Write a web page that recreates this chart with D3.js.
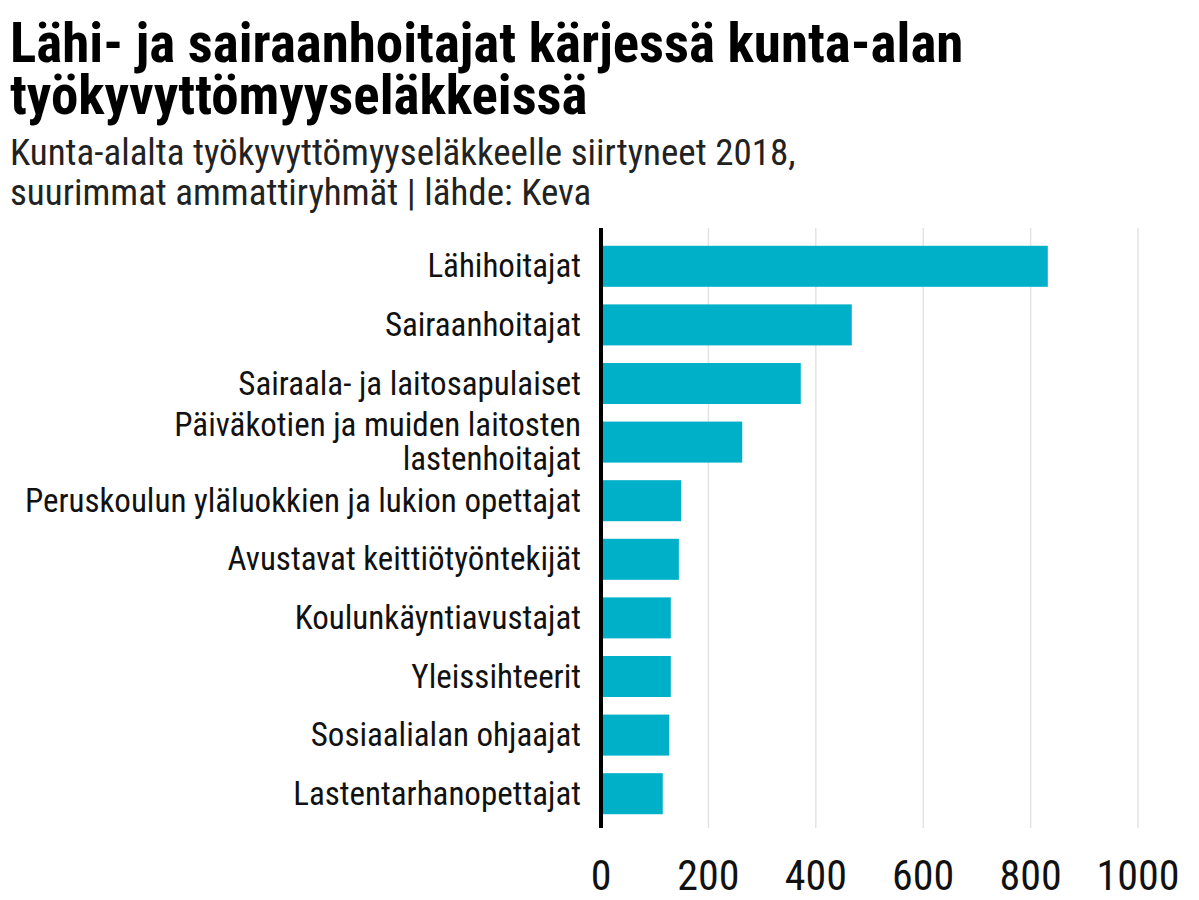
<!DOCTYPE html><html><head><meta charset="utf-8">
<script src="https://cdn.jsdelivr.net/npm/d3@7"></script>
<style>body{margin:0;background:#fff}text{font-family:"Roboto Condensed","Liberation Sans Narrow","DejaVu Sans Condensed",Roboto,sans-serif}</style></head><body>
<svg id="c" width="1199" height="900"></svg>
<script>
const categories=["Lähihoitajat","Sairaanhoitajat","Sairaala- ja laitosapulaiset","Päiväkotien ja muiden laitosten|lastenhoitajat","Peruskoulun yläluokkien ja lukion opettajat","Avustavat keittiötyöntekijät","Koulunkäyntiavustajat","Yleissihteerit","Sosiaalialan ohjaajat","Lastentarhanopettajat"];
const values=[832,467,372,263,149,145,130,130,127,115];
const ticks=[0,200,400,600,800,1000];
const svg=d3.select("#c");
const x=d3.scaleLinear().domain([0,1000]).range([601,1138]);
const y=d3.scaleBand().domain(categories).range([237,823]).paddingInner(0.3).paddingOuter(0.15);
const t=svg.append("text").attr("font-size",55).attr("font-weight",700).attr("fill","#000");
t.append("tspan").attr("x",10).attr("y",62).text("Lähi- ja sairaanhoitajat kärjessä kunta-alan");
t.append("tspan").attr("x",10).attr("y",114).text("työkyvyttömyyseläkkeissä");
const s=svg.append("text").attr("font-size",37).attr("fill","#222");
s.append("tspan").attr("x",10).attr("y",165).text("Kunta-alalta työkyvyttömyyseläkkeelle siirtyneet 2018,");
s.append("tspan").attr("x",10).attr("y",205).text("suurimmat ammattiryhmät | lähde: Keva");
svg.append("g").selectAll("line").data(ticks.slice(1)).join("line").attr("x1",d=>x(d)).attr("x2",d=>x(d)).attr("y1",228).attr("y2",828).attr("stroke","#e3e3e3").attr("stroke-width",1.5);
svg.append("g").selectAll("rect").data(values).join("rect").attr("x",x(0)).attr("y",(d,i)=>y(categories[i])).attr("width",d=>x(d)-x(0)).attr("height",y.bandwidth()).attr("fill","#00b0c8");
svg.append("line").attr("x1",x(0)).attr("x2",x(0)).attr("y1",228).attr("y2",828).attr("stroke","#000").attr("stroke-width",4);
const lab=svg.append("g").selectAll("text").data(categories).join("text").attr("text-anchor","end").attr("font-size",33).attr("fill","#111");
lab.each(function(d){const parts=d.split("|");const el=d3.select(this);const cy=y(d)+y.bandwidth()/2;
parts.forEach((p,j)=>el.append("tspan").attr("x",581).attr("y",cy+11+(j-(parts.length-1)/2)*34).text(p));});
svg.append("g").selectAll("text").data(ticks).join("text").attr("x",d=>x(d)).attr("y",890).attr("text-anchor","middle").attr("font-size",42).attr("fill","#111").text(d=>d);
</script></body></html>
